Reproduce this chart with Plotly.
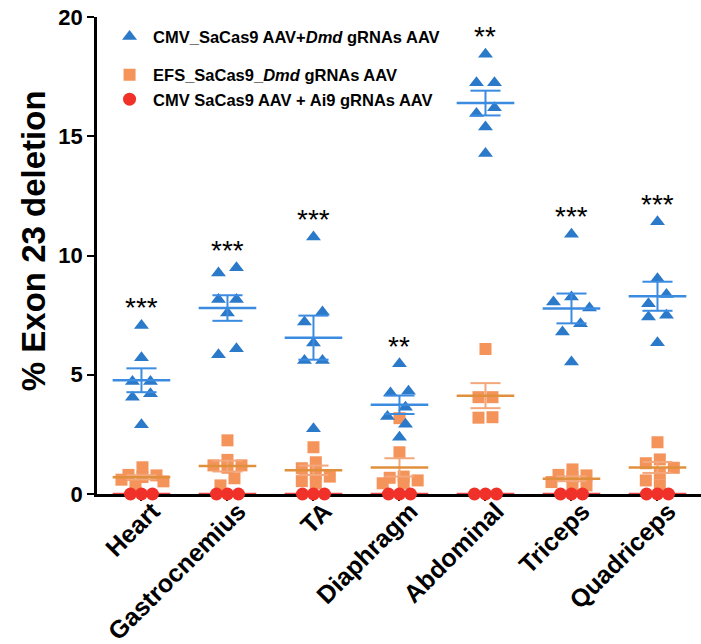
import numpy as np
import plotly.graph_objects as go

categories = ["Heart", "Gastrocnemius", "TA", "Diaphragm", "Abdominal", "Triceps", "Quadriceps"]

cmv_dmd = [
    [7.07, 5.71, 4.72, 4.72, 4.20, 4.06, 2.90],
    [9.49, 9.27, 8.15, 8.15, 7.59, 6.09, 5.84],
    [10.78, 7.63, 7.21, 6.33, 5.60, 5.60, 2.74],
    [5.46, 4.31, 4.23, 3.64, 3.25, 2.92, 2.38],
    [18.44, 17.24, 17.24, 16.20, 15.95, 15.39, 14.28],
    [10.89, 8.26, 8.05, 7.80, 7.14, 6.79, 5.53],
    [11.41, 9.03, 8.37, 7.98, 7.49, 7.42, 6.34],
]
efs_dmd = [
    [1.12, 0.80, 0.78, 0.71, 0.60, 0.53, 0.36],
    [2.25, 1.43, 1.20, 1.20, 1.10, 0.66, 0.36],
    [1.96, 1.33, 1.08, 0.87, 0.73, 0.54, 0.45],
    [3.18, 1.75, 0.73, 0.68, 0.57, 0.45, 0.45],
    [6.08, 4.06, 4.06, 3.22, 3.20],
    [1.03, 0.80, 0.78, 0.71, 0.50, 0.36, 0.29],
    [2.17, 1.45, 1.29, 1.10, 0.85, 0.57, 0.36],
]
cmv_ai9 = [[0, 0, 0] for _ in categories]

significance = ["***", "***", "***", "**", "**", "***", "***"]

series_names = [
    "CMV_SaCas9 AAV+<i>Dmd</i> gRNAs AAV",
    "EFS_SaCas9_<i>Dmd</i> gRNAs AAV",
    "CMV SaCas9 AAV + Ai9 gRNAs AAV",
]
y_title = "% Exon 23 deletion"

# ---- layout geometry (pixels) ----
W, H = 701, 644
ML, MR, MT, MB = 97, 0, 17, 150
XR = [-0.517, 6.506]
YR = [0, 20]
PX_X = (W - ML - MR) / (XR[1] - XR[0])
PX_Y = (H - MT - MB) / (YR[1] - YR[0])


def swarm(vals, step, wx, hy, max_k=3):
    """Beeswarm offsets (category units); bounded width, least overlap when crowded."""
    n = len(vals)
    order = sorted(range(n), key=lambda i: -vals[i])
    offs = [0.0] * n
    placed = []
    cands = [0]
    for k in range(1, max_k + 1):
        cands += [-k * step, k * step]
    for i in order:
        y = vals[i] * PX_Y
        best, best_cost = 0, None
        for c in cands:
            cost = sum(max(0, wx - abs(c - px)) * max(0, hy - abs(y - py)) for px, py in placed)
            if best_cost is None or cost < best_cost - 1e-9:
                best, best_cost = c, cost
            if cost == 0:
                break
        offs[i] = best
        placed.append((best, y))
    idx = sorted(range(n), key=lambda i: -vals[i])
    groups, cur = [], [idx[0]]
    for a, b in zip(idx[:-1], idx[1:]):
        if abs(vals[a] - vals[b]) * PX_Y < hy:
            cur.append(b)
        else:
            groups.append(cur)
            cur = [b]
    groups.append(cur)
    for g in groups:
        m = np.mean([offs[i] for i in g])
        for i in g:
            offs[i] -= m
    return [o / PX_X for o in offs]


def sem(v):
    v = np.asarray(v, float)
    return float(v.std(ddof=1) / np.sqrt(len(v))) if len(v) > 1 else 0.0


fig = go.Figure()

specs = [
    (efs_dmd, series_names[1], "square", 12, "#F4935A", "#E0903C", "#F3A77C", (7, 12, 9, 3), "legend2"),
    (cmv_dmd, series_names[0], "triangle-up", 13, "#2B79C9", "#3B8BE0", "#3B8BE0", (9, 16, 12, 3), "legend"),
    (cmv_ai9, series_names[2], "circle", 13, "#F0312A", "#E84848", "#E84848", (11, 11, 10, 3), "legend2"),
]

traces = {}
for data, name, sym, size, col, lcol, ecol, sp, leg in specs:
    xs, ys = [], []
    for ci, vals in enumerate(data):
        offs = swarm(vals, *sp)
        xs += [ci + o for o in offs]
        ys += list(vals)
    mk = go.Scatter(
        x=xs, y=ys, mode="markers", name=name, legend=leg,
        marker=dict(symbol=sym, size=size, color=col, line=dict(width=0)),
        cliponaxis=False, showlegend=True,
    )
    mx, my, ex, ey = [], [], [], []
    for ci, vals in enumerate(data):
        m = float(np.mean(vals))
        s = sem(vals)
        mx += [ci - 0.335, ci + 0.335, None]
        my += [m, m, None]
        if s > 0:
            ex += [ci, ci, None, ci - 0.175, ci + 0.175, None, ci - 0.175, ci + 0.175, None]
            ey += [m - s, m + s, None, m + s, m + s, None, m - s, m - s, None]
    err = go.Scatter(x=ex, y=ey, mode="lines", line=dict(color=ecol, width=2),
                     showlegend=False, hoverinfo="skip", cliponaxis=False)
    mean = go.Scatter(x=mx, y=my, mode="lines", line=dict(color=lcol, width=2.5),
                      showlegend=False, hoverinfo="skip", cliponaxis=False)
    traces[name] = (mk, err, mean)

for name in [series_names[1], series_names[0]]:
    mk, err, mean = traces[name]
    fig.add_trace(mk)
    fig.add_trace(err)
    fig.add_trace(mean)
mk, err, mean = traces[series_names[2]]
fig.add_trace(mean)
fig.add_trace(mk)

for ci, lab in enumerate(significance):
    fig.add_annotation(x=ci, y=max(cmv_dmd[ci]) + 0.74, text=lab, showarrow=False,
                       xanchor="center", yanchor="middle",
                       font=dict(size=28, color="black", family="Liberation Sans, Arial"))

bold = dict(family="Liberation Sans, Arial", color="black", weight="bold")

fig.add_annotation(xref="paper", yref="paper", x=0, y=0.53, xshift=-64,
                   text=y_title, textangle=-90, showarrow=False,
                   xanchor="center", yanchor="middle", font=dict(size=33, **bold))

fig.update_layout(
    width=W, height=H,
    margin=dict(l=ML, r=MR, t=MT, b=MB, autoexpand=False),
    plot_bgcolor="white", paper_bgcolor="white",
    font=dict(family="Liberation Sans, Arial", color="black"),
    xaxis=dict(
        range=XR, tickmode="array", tickvals=list(range(len(categories))), ticktext=categories,
        tickangle=-45, tickfont=dict(size=25, **bold), ticklabelstandoff=-14, ticklabelshift=11,
        showline=True, linecolor="black", linewidth=2.5,
        ticks="outside", ticklen=4, tickwidth=2, tickcolor="black",
        showgrid=False, zeroline=False, layer="below traces",
    ),
    yaxis=dict(
        range=YR, tickmode="array", tickvals=[0, 5, 10, 15, 20],
        tickfont=dict(size=22, **bold),
        showline=True, linecolor="black", linewidth=2.5,
        ticks="outside", ticklen=7, tickwidth=2, tickcolor="black",
        showgrid=False, zeroline=False,
    ),
    legend=dict(x=0.015, y=0.995, xanchor="left", yanchor="top", itemwidth=37,
                font=dict(size=16.5, **bold), bgcolor="rgba(0,0,0,0)", itemclick=False),
    legend2=dict(x=0.015, y=0.915, xanchor="left", yanchor="top", itemwidth=37,
                 font=dict(size=16.5, **bold), bgcolor="rgba(0,0,0,0)", itemclick=False,
                 tracegroupgap=0),
)

fig.write_html("out.html")
